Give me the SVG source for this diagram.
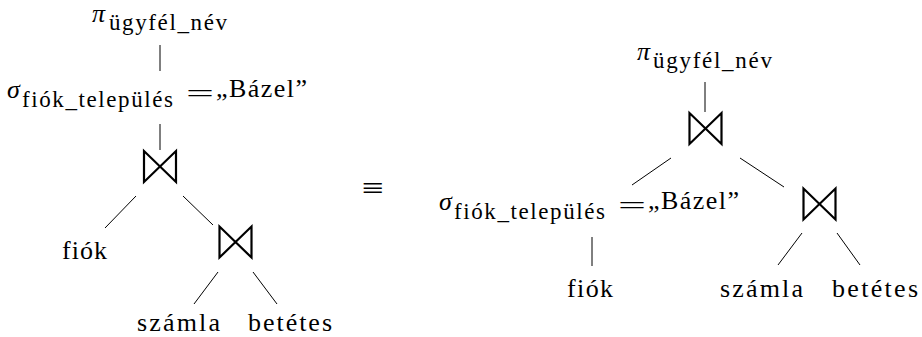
<svg xmlns="http://www.w3.org/2000/svg" width="922" height="337" viewBox="0 0 922 337">
<style>
.t{font-family:"Liberation Serif","Times New Roman",serif;font-size:26px;fill:#000}
.s{font-family:"Liberation Serif","Times New Roman",serif;font-size:23px;fill:#000}
.g{font-family:"Liberation Serif","Times New Roman",serif;font-style:italic;font-size:26px;fill:#000}
.eq{font-family:"Liberation Serif","Times New Roman",serif;font-size:30px;fill:#000}
.e{stroke:#000;stroke-width:1;fill:none}
.bt{stroke:#000;stroke-width:2.2;fill:none;stroke-linejoin:miter;stroke-miterlimit:10}
</style>
<defs>
<path id="bowtie" class="bt" d="M0,0 L0,31 L32,0 L32,31 Z"/>
</defs>
<rect width="922" height="337" fill="#fff"/>
<g id="connectors">
<line class="e" x1="160" y1="45" x2="160" y2="71"/>
<line class="e" x1="160" y1="124" x2="160" y2="150"/>
<line class="e" x1="136" y1="196" x2="105" y2="228"/>
<line class="e" x1="183" y1="196" x2="213" y2="225"/>
<line class="e" x1="218" y1="272" x2="194" y2="304"/>
<line class="e" x1="253" y1="272" x2="277" y2="304"/>
<line class="e" x1="705" y1="82" x2="705" y2="112"/>
<line class="e" x1="671" y1="158" x2="632" y2="185"/>
<line class="e" x1="740" y1="158" x2="784" y2="187"/>
<line class="e" x1="592" y1="237" x2="592" y2="266"/>
<line class="e" x1="802" y1="233" x2="778" y2="265"/>
<line class="e" x1="837" y1="233" x2="860" y2="265"/>
</g>
<g id="l-proj">
<text class="g" x="92" y="22">π</text>
<text class="s" x="109" y="30" textLength="118" lengthAdjust="spacing">ügyfél_név</text>
</g>
<g id="l-sel">
<text class="g" x="7" y="98">σ</text>
<text class="s" x="22" y="107" textLength="151" lengthAdjust="spacing">fiók_település</text>
<text class="t" x="186" y="102" textLength="28" lengthAdjust="spacingAndGlyphs">=</text>
<text class="t" x="216" y="97" textLength="91" lengthAdjust="spacing">„Bázel”</text>
</g>
<g id="l-join1"><use href="#bowtie" x="144" y="151"/></g>
<g id="l-fiok"><text class="t" x="62" y="259" textLength="45" lengthAdjust="spacing">fiók</text></g>
<g id="l-join2"><use href="#bowtie" x="219.5" y="226.5"/></g>
<g id="l-szamla"><text class="t" x="137" y="331" textLength="83" lengthAdjust="spacing">számla</text></g>
<g id="l-betetes"><text class="t" x="248" y="331" textLength="84" lengthAdjust="spacing">betétes</text></g>
<g id="equiv"><text class="eq" x="362" y="198" textLength="22" lengthAdjust="spacingAndGlyphs">≡</text></g>
<g id="r-proj">
<text class="g" x="637" y="60">π</text>
<text class="s" x="653" y="68" textLength="119" lengthAdjust="spacing">ügyfél_név</text>
</g>
<g id="r-join1"><use href="#bowtie" x="689.5" y="113"/></g>
<g id="r-sel">
<text class="g" x="439" y="210">σ</text>
<text class="s" x="454" y="219" textLength="151" lengthAdjust="spacing">fiók_település</text>
<text class="t" x="618" y="214" textLength="28" lengthAdjust="spacingAndGlyphs">=</text>
<text class="t" x="648" y="209" textLength="91" lengthAdjust="spacing">„Bázel”</text>
</g>
<g id="r-join2"><use href="#bowtie" x="803.5" y="188.5"/></g>
<g id="r-fiok"><text class="t" x="567" y="297" textLength="46" lengthAdjust="spacing">fiók</text></g>
<g id="r-szamla"><text class="t" x="720" y="297" textLength="83" lengthAdjust="spacing">számla</text></g>
<g id="r-betetes"><text class="t" x="832" y="297" textLength="86" lengthAdjust="spacing">betétes</text></g>
</svg>
